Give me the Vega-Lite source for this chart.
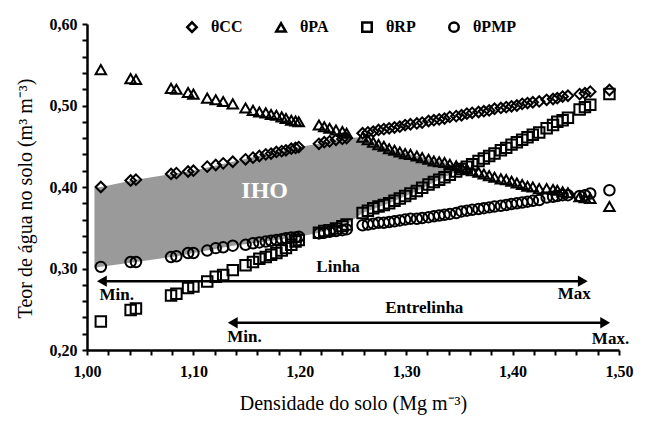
{
  "$schema": "https://vega.github.io/schema/vega-lite/v6.json",
  "width": 532,
  "height": 326,
  "autosize": {"type": "none"},
  "padding": {"left": 87, "top": 24, "right": 26, "bottom": 72},
  "background": "white",
  "config": {
    "view": {"stroke": null},
    "font": "Liberation Serif",
    "axis": {
      "grid": false,
      "domain": true, "domainColor": "#000000", "domainWidth": 2.5,
      "ticks": true, "tickColor": "#000000", "tickWidth": 2, "tickSize": 5,
      "labelFont": "Liberation Serif", "labelFontWeight": "bold", "labelFontSize": 16, "labelColor": "black",
      "labelOverlap": false, "labelFlush": false,
      "titleFont": "Liberation Serif", "titleFontWeight": "normal", "titleFontSize": 20, "titleColor": "black", "titlePadding": 14
    },
    "axisX": {"labelPadding": 8},
    "axisY": {"labelPadding": 5}
  },
  "datasets": {
    "umidade": [
      {"d": 1.013, "θCC": 0.400, "θPA": 0.544, "θRP": 0.235, "θPMP": 0.302},
      {"d": 1.041, "θCC": 0.408, "θPA": 0.533, "θRP": 0.249, "θPMP": 0.308},
      {"d": 1.046, "θCC": 0.409, "θPA": 0.532, "θRP": 0.251, "θPMP": 0.308},
      {"d": 1.079, "θCC": 0.416, "θPA": 0.521, "θRP": 0.267, "θPMP": 0.314},
      {"d": 1.084, "θCC": 0.417, "θPA": 0.520, "θRP": 0.269, "θPMP": 0.315},
      {"d": 1.095, "θCC": 0.419, "θPA": 0.516, "θRP": 0.276, "θPMP": 0.319},
      {"d": 1.100, "θCC": 0.420, "θPA": 0.514, "θRP": 0.278, "θPMP": 0.319},
      {"d": 1.113, "θCC": 0.425, "θPA": 0.509, "θRP": 0.284, "θPMP": 0.322},
      {"d": 1.121, "θCC": 0.427, "θPA": 0.507, "θRP": 0.290, "θPMP": 0.325},
      {"d": 1.128, "θCC": 0.429, "θPA": 0.505, "θRP": 0.292, "θPMP": 0.326},
      {"d": 1.137, "θCC": 0.431, "θPA": 0.502, "θRP": 0.298, "θPMP": 0.328},
      {"d": 1.149, "θCC": 0.434, "θPA": 0.497, "θRP": 0.304, "θPMP": 0.329},
      {"d": 1.156, "θCC": 0.436, "θPA": 0.494, "θRP": 0.308, "θPMP": 0.331},
      {"d": 1.162, "θCC": 0.438, "θPA": 0.492, "θRP": 0.312, "θPMP": 0.332},
      {"d": 1.168, "θCC": 0.440, "θPA": 0.491, "θRP": 0.314, "θPMP": 0.333},
      {"d": 1.173, "θCC": 0.441, "θPA": 0.489, "θRP": 0.317, "θPMP": 0.334},
      {"d": 1.178, "θCC": 0.443, "θPA": 0.488, "θRP": 0.319, "θPMP": 0.335},
      {"d": 1.183, "θCC": 0.444, "θPA": 0.486, "θRP": 0.322, "θPMP": 0.336},
      {"d": 1.187, "θCC": 0.445, "θPA": 0.484, "θRP": 0.325, "θPMP": 0.337},
      {"d": 1.192, "θCC": 0.447, "θPA": 0.482, "θRP": 0.329, "θPMP": 0.338},
      {"d": 1.196, "θCC": 0.448, "θPA": 0.481, "θRP": 0.333, "θPMP": 0.338},
      {"d": 1.199, "θCC": 0.449, "θPA": 0.480, "θRP": 0.335, "θPMP": 0.339},
      {"d": 1.218, "θCC": 0.453, "θPA": 0.476, "θRP": 0.344, "θPMP": 0.343},
      {"d": 1.223, "θCC": 0.455, "θPA": 0.474, "θRP": 0.346, "θPMP": 0.344},
      {"d": 1.228, "θCC": 0.456, "θPA": 0.472, "θRP": 0.347, "θPMP": 0.345},
      {"d": 1.234, "θCC": 0.458, "θPA": 0.470, "θRP": 0.349, "θPMP": 0.346},
      {"d": 1.240, "θCC": 0.459, "θPA": 0.468, "θRP": 0.352, "θPMP": 0.347},
      {"d": 1.244, "θCC": 0.460, "θPA": 0.466, "θRP": 0.354, "θPMP": 0.348},
      {"d": 1.259, "θCC": 0.466, "θPA": 0.461, "θRP": 0.368, "θPMP": 0.353},
      {"d": 1.264, "θCC": 0.467, "θPA": 0.458, "θRP": 0.371, "θPMP": 0.354},
      {"d": 1.269, "θCC": 0.468, "θPA": 0.455, "θRP": 0.374, "θPMP": 0.355},
      {"d": 1.274, "θCC": 0.470, "θPA": 0.452, "θRP": 0.376, "θPMP": 0.356},
      {"d": 1.279, "θCC": 0.471, "θPA": 0.450, "θRP": 0.378, "θPMP": 0.356},
      {"d": 1.284, "θCC": 0.472, "θPA": 0.447, "θRP": 0.380, "θPMP": 0.357},
      {"d": 1.289, "θCC": 0.473, "θPA": 0.445, "θRP": 0.383, "θPMP": 0.358},
      {"d": 1.294, "θCC": 0.474, "θPA": 0.443, "θRP": 0.386, "θPMP": 0.359},
      {"d": 1.299, "θCC": 0.476, "θPA": 0.441, "θRP": 0.389, "θPMP": 0.360},
      {"d": 1.304, "θCC": 0.477, "θPA": 0.440, "θRP": 0.392, "θPMP": 0.361},
      {"d": 1.310, "θCC": 0.478, "θPA": 0.438, "θRP": 0.395, "θPMP": 0.361},
      {"d": 1.315, "θCC": 0.479, "θPA": 0.436, "θRP": 0.399, "θPMP": 0.362},
      {"d": 1.321, "θCC": 0.481, "θPA": 0.434, "θRP": 0.403, "θPMP": 0.363},
      {"d": 1.326, "θCC": 0.482, "θPA": 0.432, "θRP": 0.406, "θPMP": 0.364},
      {"d": 1.331, "θCC": 0.483, "θPA": 0.431, "θRP": 0.409, "θPMP": 0.365},
      {"d": 1.336, "θCC": 0.484, "θPA": 0.430, "θRP": 0.412, "θPMP": 0.366},
      {"d": 1.341, "θCC": 0.486, "θPA": 0.428, "θRP": 0.415, "θPMP": 0.367},
      {"d": 1.347, "θCC": 0.487, "θPA": 0.426, "θRP": 0.419, "θPMP": 0.368},
      {"d": 1.352, "θCC": 0.488, "θPA": 0.424, "θRP": 0.422, "θPMP": 0.370},
      {"d": 1.357, "θCC": 0.490, "θPA": 0.422, "θRP": 0.425, "θPMP": 0.371},
      {"d": 1.362, "θCC": 0.491, "θPA": 0.420, "θRP": 0.428, "θPMP": 0.372},
      {"d": 1.368, "θCC": 0.492, "θPA": 0.418, "θRP": 0.432, "θPMP": 0.373},
      {"d": 1.373, "θCC": 0.493, "θPA": 0.416, "θRP": 0.435, "θPMP": 0.374},
      {"d": 1.378, "θCC": 0.494, "θPA": 0.414, "θRP": 0.438, "θPMP": 0.375},
      {"d": 1.383, "θCC": 0.496, "θPA": 0.412, "θRP": 0.441, "θPMP": 0.376},
      {"d": 1.389, "θCC": 0.497, "θPA": 0.410, "θRP": 0.445, "θPMP": 0.377},
      {"d": 1.394, "θCC": 0.498, "θPA": 0.409, "θRP": 0.448, "θPMP": 0.378},
      {"d": 1.399, "θCC": 0.499, "θPA": 0.407, "θRP": 0.452, "θPMP": 0.379},
      {"d": 1.404, "θCC": 0.500, "θPA": 0.405, "θRP": 0.455, "θPMP": 0.380},
      {"d": 1.409, "θCC": 0.502, "θPA": 0.403, "θRP": 0.458, "θPMP": 0.381},
      {"d": 1.414, "θCC": 0.503, "θPA": 0.401, "θRP": 0.461, "θPMP": 0.382},
      {"d": 1.419, "θCC": 0.504, "θPA": 0.400, "θRP": 0.464, "θPMP": 0.383},
      {"d": 1.425, "θCC": 0.505, "θPA": 0.398, "θRP": 0.467, "θPMP": 0.384},
      {"d": 1.432, "θCC": 0.507, "θPA": 0.398, "θRP": 0.472, "θPMP": 0.387},
      {"d": 1.438, "θCC": 0.508, "θPA": 0.397, "θRP": 0.476, "θPMP": 0.388},
      {"d": 1.442, "θCC": 0.509, "θPA": 0.396, "θRP": 0.480, "θPMP": 0.389},
      {"d": 1.447, "θCC": 0.511, "θPA": 0.394, "θRP": 0.482, "θPMP": 0.390},
      {"d": 1.452, "θCC": 0.512, "θPA": 0.393, "θRP": 0.485, "θPMP": 0.390},
      {"d": 1.463, "θCC": 0.514, "θPA": 0.388, "θRP": 0.495, "θPMP": 0.389},
      {"d": 1.468, "θCC": 0.515, "θPA": 0.387, "θRP": 0.498, "θPMP": 0.390},
      {"d": 1.473, "θCC": 0.517, "θPA": 0.386, "θRP": 0.501, "θPMP": 0.392},
      {"d": 1.491, "θCC": 0.519, "θPA": 0.376, "θRP": 0.514, "θPMP": 0.396}
    ],
    "iho": [
      {"d": 1.007, "teor": 0.399, "inf": 0.301},
      {"d": 1.013, "teor": 0.400, "inf": 0.302},
      {"d": 1.046, "teor": 0.409, "inf": 0.308},
      {"d": 1.084, "teor": 0.417, "inf": 0.315},
      {"d": 1.100, "teor": 0.420, "inf": 0.319},
      {"d": 1.137, "teor": 0.431, "inf": 0.328},
      {"d": 1.168, "teor": 0.440, "inf": 0.333},
      {"d": 1.199, "teor": 0.449, "inf": 0.339},
      {"d": 1.218, "teor": 0.453, "inf": 0.344},
      {"d": 1.244, "teor": 0.460, "inf": 0.354},
      {"d": 1.259, "teor": 0.461, "inf": 0.368},
      {"d": 1.284, "teor": 0.447, "inf": 0.380},
      {"d": 1.310, "teor": 0.438, "inf": 0.395},
      {"d": 1.336, "teor": 0.430, "inf": 0.412},
      {"d": 1.354, "teor": 0.423, "inf": 0.423}
    ],
    "setas": [
      {"seta": "Linha", "d": 1.014, "fim": 1.466, "teor": 0.2845},
      {"seta": "Entrelinha", "d": 1.137, "fim": 1.487, "teor": 0.2335}
    ],
    "textos": [
      {"rotulo": "Linha", "d": 1.236, "teor": 0.302},
      {"rotulo": "Min.", "d": 1.028, "teor": 0.2675},
      {"rotulo": "Max", "d": 1.458, "teor": 0.2690},
      {"rotulo": "Entrelinha", "d": 1.317, "teor": 0.251},
      {"rotulo": "Min.", "d": 1.148, "teor": 0.2156},
      {"rotulo": "Max.", "d": 1.492, "teor": 0.214}
    ],
    "zona": [
      {"rotulo": "IHO", "d": 1.167, "teor": 0.3945}
    ]
  },
  "encoding": {
    "x": {
      "field": "d", "type": "quantitative",
      "title": "Densidade do solo (Mg m⁻³)",
      "scale": {"domain": [1.0, 1.5], "nice": false, "zero": false},
      "axis": {
        "domain": true, "ticks": true,
        "values": [1.0, 1.02, 1.04, 1.06, 1.08, 1.1, 1.12, 1.14, 1.16, 1.18, 1.2, 1.22, 1.24, 1.26, 1.28, 1.3, 1.32, 1.34, 1.36, 1.38, 1.4, 1.42, 1.44, 1.46, 1.48, 1.5],
        "labelExpr": "abs(datum.value*10 - round(datum.value*10)) < 0.01 ? replace(format(datum.value, '.2f'), '.', ',') : ''"
      }
    },
    "y": {
      "field": "teor", "type": "quantitative",
      "title": "Teor de água no solo (m³ m⁻³)",
      "scale": {"domain": [0.2, 0.6], "nice": false, "zero": false},
      "axis": {
        "domain": true, "ticks": true,
        "values": [0.2, 0.22, 0.24, 0.26, 0.28, 0.3, 0.32, 0.34, 0.36, 0.38, 0.4, 0.42, 0.44, 0.46, 0.48, 0.5, 0.52, 0.54, 0.56, 0.58, 0.6],
        "labelExpr": "abs(datum.value*10 - round(datum.value*10)) < 0.01 ? replace(format(datum.value, '.2f'), '.', ',') : ''",
        "titleY": 174
      }
    }
  },
  "layer": [
    {
      "data": {"name": "iho"},
      "mark": {"type": "area", "color": "#9a9a9a", "opacity": 1},
      "encoding": {"y2": {"field": "inf"}}
    },
    {
      "data": {"name": "umidade"},
      "transform": [{"fold": ["θCC", "θPA", "θRP", "θPMP"], "as": ["serie", "teor"]}],
      "mark": {"type": "point", "filled": false, "stroke": "black", "strokeWidth": 2, "size": 110, "opacity": 1},
      "encoding": {
        "shape": {
          "field": "serie", "type": "nominal",
          "scale": {"domain": ["θCC", "θPA", "θRP", "θPMP"], "range": ["diamond", "triangle-up", "square", "circle"]},
          "legend": {
            "title": null, "orient": "none", "legendX": 97, "legendY": -5,
            "direction": "horizontal", "columns": 4, "padding": 0,
            "labelFont": "Liberation Serif", "labelFontWeight": "bold", "labelFontSize": 16, "labelColor": "black",
            "labelOffset": 11, "columnPadding": 28,
            "symbolSize": 90, "symbolStrokeWidth": 2.5, "symbolStrokeColor": "black", "symbolFillColor": "transparent"
          }
        }
      }
    },
    {
      "data": {"name": "setas"},
      "mark": {"type": "rule", "color": "black", "strokeWidth": 2.5},
      "encoding": {"x2": {"field": "fim"}}
    },
    {
      "data": {"name": "setas"},
      "mark": {"type": "point", "shape": "triangle-left", "filled": true, "color": "black", "size": 130, "opacity": 1},
      "encoding": {}
    },
    {
      "data": {"name": "setas"},
      "mark": {"type": "point", "shape": "triangle-right", "filled": true, "color": "black", "size": 130, "opacity": 1},
      "encoding": {"x": {"field": "fim", "type": "quantitative"}}
    },
    {
      "data": {"name": "textos"},
      "mark": {"type": "text", "font": "Liberation Serif", "fontWeight": "bold", "fontSize": 17, "color": "black", "align": "center", "baseline": "middle"},
      "encoding": {"text": {"field": "rotulo"}}
    },
    {
      "data": {"name": "zona"},
      "mark": {"type": "text", "font": "Liberation Serif", "fontWeight": "bold", "fontSize": 24, "color": "white", "align": "center", "baseline": "middle"},
      "encoding": {"text": {"field": "rotulo"}}
    }
  ]
}
